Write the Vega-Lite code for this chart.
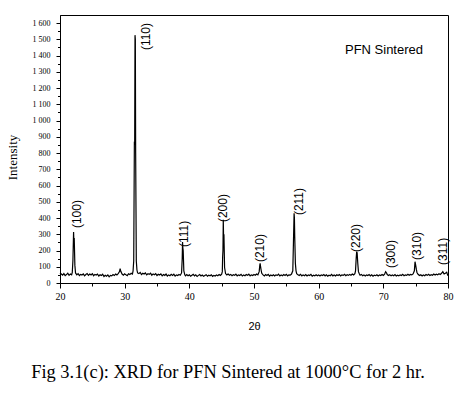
{
  "$schema": "https://vega.github.io/schema/vega-lite/v6.json",
  "width": 388,
  "height": 268,
  "autosize": {"type": "none"},
  "padding": {"left": 60, "top": 15, "right": 24, "bottom": 115},
  "background": "white",
  "title": {
    "text": "Fig 3.1(c): XRD for PFN Sintered at 1000°C for 2 hr.",
    "orient": "bottom",
    "frame": "group",
    "anchor": "middle",
    "dx": -26,
    "offset": 32,
    "font": "Liberation Serif",
    "fontSize": 18.4,
    "fontWeight": "normal",
    "color": "black"
  },
  "config": {
    "view": {"stroke": "black", "strokeWidth": 1},
    "axis": {"domainColor": "black", "tickColor": "black", "labelColor": "black", "titleColor": "black", "grid": false}
  },
  "datasets": {
    "spectrum": [
      {"x":20.0,"y":62},{"x":20.2,"y":55},{"x":20.4,"y":48},{"x":20.6,"y":58},{"x":20.8,"y":45},{"x":21.0,"y":52},{"x":21.2,"y":60},{"x":21.4,"y":47},{"x":21.6,"y":55},{"x":21.8,"y":50},{"x":21.9,"y":65},{"x":22.0,"y":140},{"x":22.1,"y":314},{"x":22.15,"y":250},{"x":22.2,"y":277},{"x":22.3,"y":110},{"x":22.4,"y":62},{"x":22.6,"y":50},{"x":22.8,"y":58},{"x":23.0,"y":46},{"x":23.2,"y":53},{"x":23.4,"y":49},{"x":23.6,"y":56},{"x":23.8,"y":44},{"x":24.0,"y":52},{"x":24.2,"y":58},{"x":24.4,"y":47},{"x":24.6,"y":55},{"x":24.8,"y":50},{"x":25.0,"y":57},{"x":25.2,"y":45},{"x":25.4,"y":53},{"x":25.6,"y":49},{"x":25.8,"y":55},{"x":26.0,"y":43},{"x":26.2,"y":51},{"x":26.4,"y":46},{"x":26.6,"y":54},{"x":26.8,"y":40},{"x":27.0,"y":48},{"x":27.2,"y":42},{"x":27.4,"y":50},{"x":27.6,"y":38},{"x":27.8,"y":47},{"x":28.0,"y":44},{"x":28.2,"y":52},{"x":28.4,"y":46},{"x":28.6,"y":55},{"x":28.8,"y":50},{"x":29.0,"y":58},{"x":29.2,"y":70},{"x":29.3,"y":88},{"x":29.4,"y":72},{"x":29.6,"y":55},{"x":29.8,"y":48},{"x":30.0,"y":56},{"x":30.2,"y":50},{"x":30.4,"y":45},{"x":30.6,"y":57},{"x":30.8,"y":52},{"x":31.0,"y":60},{"x":31.2,"y":55},{"x":31.3,"y":75},{"x":31.4,"y":135},{"x":31.5,"y":862},{"x":31.55,"y":860},{"x":31.6,"y":1526},{"x":31.65,"y":1500},{"x":31.7,"y":800},{"x":31.8,"y":135},{"x":31.9,"y":80},{"x":32.0,"y":62},{"x":32.2,"y":58},{"x":32.4,"y":65},{"x":32.6,"y":52},{"x":32.8,"y":60},{"x":33.0,"y":55},{"x":33.2,"y":62},{"x":33.4,"y":50},{"x":33.6,"y":57},{"x":33.8,"y":53},{"x":34.0,"y":60},{"x":34.2,"y":48},{"x":34.4,"y":56},{"x":34.6,"y":51},{"x":34.8,"y":58},{"x":35.0,"y":46},{"x":35.2,"y":54},{"x":35.4,"y":49},{"x":35.6,"y":56},{"x":35.8,"y":44},{"x":36.0,"y":52},{"x":36.2,"y":47},{"x":36.4,"y":55},{"x":36.6,"y":43},{"x":36.8,"y":50},{"x":37.0,"y":45},{"x":37.2,"y":53},{"x":37.4,"y":47},{"x":37.6,"y":54},{"x":37.8,"y":42},{"x":38.0,"y":50},{"x":38.2,"y":46},{"x":38.4,"y":52},{"x":38.6,"y":48},{"x":38.8,"y":62},{"x":38.9,"y":150},{"x":38.95,"y":252},{"x":39.0,"y":215},{"x":39.05,"y":200},{"x":39.15,"y":75},{"x":39.3,"y":50},{"x":39.4,"y":44},{"x":39.6,"y":52},{"x":39.8,"y":45},{"x":40.0,"y":50},{"x":40.2,"y":42},{"x":40.4,"y":48},{"x":40.6,"y":53},{"x":40.8,"y":44},{"x":41.0,"y":50},{"x":41.2,"y":40},{"x":41.4,"y":47},{"x":41.6,"y":52},{"x":41.8,"y":43},{"x":42.0,"y":49},{"x":42.2,"y":41},{"x":42.4,"y":46},{"x":42.6,"y":51},{"x":42.8,"y":42},{"x":43.0,"y":48},{"x":43.2,"y":44},{"x":43.4,"y":50},{"x":43.6,"y":41},{"x":43.8,"y":47},{"x":44.0,"y":43},{"x":44.2,"y":49},{"x":44.4,"y":45},{"x":44.6,"y":52},{"x":44.8,"y":47},{"x":45.0,"y":55},{"x":45.1,"y":70},{"x":45.15,"y":160},{"x":45.2,"y":200},{"x":45.25,"y":390},{"x":45.3,"y":270},{"x":45.35,"y":300},{"x":45.45,"y":95},{"x":45.6,"y":58},{"x":45.8,"y":50},{"x":46.0,"y":55},{"x":46.2,"y":48},{"x":46.4,"y":53},{"x":46.6,"y":45},{"x":46.8,"y":51},{"x":47.0,"y":47},{"x":47.2,"y":55},{"x":47.4,"y":44},{"x":47.6,"y":50},{"x":47.8,"y":46},{"x":48.0,"y":53},{"x":48.2,"y":43},{"x":48.4,"y":49},{"x":48.6,"y":45},{"x":48.8,"y":52},{"x":49.0,"y":47},{"x":49.2,"y":54},{"x":49.4,"y":44},{"x":49.6,"y":50},{"x":49.8,"y":46},{"x":50.0,"y":52},{"x":50.2,"y":48},{"x":50.4,"y":55},{"x":50.6,"y":50},{"x":50.8,"y":70},{"x":50.9,"y":110},{"x":50.95,"y":121},{"x":51.0,"y":105},{"x":51.1,"y":80},{"x":51.2,"y":60},{"x":51.4,"y":50},{"x":51.6,"y":44},{"x":51.8,"y":52},{"x":52.0,"y":46},{"x":52.2,"y":53},{"x":52.4,"y":42},{"x":52.6,"y":49},{"x":52.8,"y":45},{"x":53.0,"y":51},{"x":53.2,"y":44},{"x":53.4,"y":50},{"x":53.6,"y":47},{"x":53.8,"y":54},{"x":54.0,"y":43},{"x":54.2,"y":49},{"x":54.4,"y":45},{"x":54.6,"y":52},{"x":54.8,"y":46},{"x":55.0,"y":53},{"x":55.2,"y":44},{"x":55.4,"y":50},{"x":55.6,"y":48},{"x":55.8,"y":55},{"x":56.0,"y":75},{"x":56.1,"y":250},{"x":56.2,"y":429},{"x":56.25,"y":400},{"x":56.3,"y":285},{"x":56.4,"y":120},{"x":56.5,"y":75},{"x":56.6,"y":58},{"x":56.8,"y":50},{"x":57.0,"y":46},{"x":57.2,"y":53},{"x":57.4,"y":44},{"x":57.6,"y":50},{"x":57.8,"y":45},{"x":58.0,"y":52},{"x":58.2,"y":43},{"x":58.4,"y":49},{"x":58.6,"y":46},{"x":58.8,"y":53},{"x":59.0,"y":42},{"x":59.2,"y":48},{"x":59.4,"y":44},{"x":59.6,"y":51},{"x":59.8,"y":45},{"x":60.0,"y":50},{"x":60.2,"y":43},{"x":60.4,"y":49},{"x":60.6,"y":46},{"x":60.8,"y":52},{"x":61.0,"y":44},{"x":61.2,"y":50},{"x":61.4,"y":42},{"x":61.6,"y":48},{"x":61.8,"y":45},{"x":62.0,"y":53},{"x":62.2,"y":44},{"x":62.4,"y":49},{"x":62.6,"y":43},{"x":62.8,"y":51},{"x":63.0,"y":46},{"x":63.2,"y":52},{"x":63.4,"y":44},{"x":63.6,"y":50},{"x":63.8,"y":47},{"x":64.0,"y":54},{"x":64.2,"y":45},{"x":64.4,"y":51},{"x":64.6,"y":47},{"x":64.8,"y":53},{"x":65.0,"y":48},{"x":65.2,"y":55},{"x":65.4,"y":50},{"x":65.6,"y":58},{"x":65.7,"y":75},{"x":65.8,"y":150},{"x":65.88,"y":193},{"x":65.95,"y":185},{"x":66.05,"y":120},{"x":66.15,"y":70},{"x":66.3,"y":55},{"x":66.4,"y":48},{"x":66.6,"y":53},{"x":66.8,"y":45},{"x":67.0,"y":50},{"x":67.2,"y":43},{"x":67.4,"y":49},{"x":67.6,"y":46},{"x":67.8,"y":52},{"x":68.0,"y":44},{"x":68.2,"y":50},{"x":68.4,"y":42},{"x":68.6,"y":48},{"x":68.8,"y":45},{"x":69.0,"y":51},{"x":69.2,"y":43},{"x":69.4,"y":49},{"x":69.6,"y":46},{"x":69.8,"y":52},{"x":70.0,"y":47},{"x":70.2,"y":55},{"x":70.36,"y":70},{"x":70.5,"y":62},{"x":70.6,"y":52},{"x":70.8,"y":46},{"x":71.0,"y":51},{"x":71.2,"y":44},{"x":71.4,"y":49},{"x":71.6,"y":45},{"x":71.8,"y":52},{"x":72.0,"y":43},{"x":72.2,"y":48},{"x":72.4,"y":44},{"x":72.6,"y":50},{"x":72.8,"y":46},{"x":73.0,"y":53},{"x":73.2,"y":45},{"x":73.4,"y":50},{"x":73.6,"y":47},{"x":73.8,"y":54},{"x":74.0,"y":48},{"x":74.2,"y":53},{"x":74.4,"y":50},{"x":74.6,"y":56},{"x":74.8,"y":75},{"x":74.9,"y":131},{"x":75.0,"y":110},{"x":75.1,"y":85},{"x":75.2,"y":65},{"x":75.4,"y":52},{"x":75.6,"y":46},{"x":75.8,"y":51},{"x":76.0,"y":44},{"x":76.2,"y":50},{"x":76.4,"y":45},{"x":76.6,"y":52},{"x":76.8,"y":47},{"x":77.0,"y":53},{"x":77.2,"y":46},{"x":77.4,"y":51},{"x":77.6,"y":48},{"x":77.8,"y":55},{"x":78.0,"y":49},{"x":78.2,"y":54},{"x":78.4,"y":50},{"x":78.6,"y":57},{"x":78.8,"y":52},{"x":79.0,"y":60},{"x":79.2,"y":70},{"x":79.3,"y":62},{"x":79.4,"y":56},{"x":79.6,"y":60},{"x":79.8,"y":66},{"x":79.9,"y":55},{"x":80.0,"y":45}
    ],
    "labels": [
      {"x":22.6,"y":338,"hkl":"(100)"},
      {"x":33.3,"y":1434,"hkl":"(110)"},
      {"x":39.2,"y":222,"hkl":"(111)"},
      {"x":45.2,"y":375,"hkl":"(200)"},
      {"x":50.9,"y":129,"hkl":"(210)"},
      {"x":57.0,"y":418,"hkl":"(211)"},
      {"x":65.8,"y":191,"hkl":"(220)"},
      {"x":71.2,"y":92,"hkl":"(300)"},
      {"x":75.2,"y":142,"hkl":"(310)"},
      {"x":79.2,"y":111,"hkl":"(311)"}
    ],
    "note": [{"x":70.1,"y":1434,"text":"PFN Sintered"}]
  },
  "encoding": {
    "x": {
      "field": "x", "type": "quantitative",
      "scale": {"domain": [20, 80], "nice": false, "zero": false},
      "axis": {
        "title": "2θ",
        "values": [20,25,30,35,40,45,50,55,60,65,70,75,80],
        "labelExpr": "datum.value % 10 === 0 ? datum.label : ''",
        "labelOverlap": false,
        "labelFlush": false,
        "tickSize": {"condition": {"test": "datum.value % 10 === 0", "value": 5}, "value": 3},
        "labelFont": "Liberation Serif",
        "labelFontSize": 10,
        "labelPadding": 3,
        "titleFont": "Liberation Sans",
        "titleFontSize": 11,
        "titleFontWeight": "normal",
        "titlePadding": 19
      }
    },
    "y": {
      "field": "y", "type": "quantitative",
      "scale": {"domain": [0, 1650], "nice": false},
      "axis": {
        "title": "Intensity",
        "values": [0,50,100,150,200,250,300,350,400,450,500,550,600,650,700,750,800,850,900,950,1000,1050,1100,1150,1200,1250,1300,1350,1400,1450,1500,1550,1600],
        "labelExpr": "datum.value % 100 === 0 ? replace(format(datum.value, ','), ',', ' ') : ''",
        "labelOverlap": false,
        "labelFlush": false,
        "tickSize": {"condition": {"test": "datum.value % 100 === 0", "value": 4}, "value": 2.5},
        "labelFont": "Liberation Serif",
        "labelFontSize": 8,
        "labelPadding": 6,
        "titleFont": "Liberation Serif",
        "titleFontSize": 13,
        "titleFontWeight": "normal",
        "titleAngle": 270,
        "titleAlign": "center",
        "titleBaseline": "middle",
        "titleX": -48,
        "titleY": 142
      }
    }
  },
  "layer": [
    {
      "data": {"name": "spectrum"},
      "mark": {"type": "line", "color": "black", "strokeWidth": 1.2, "interpolate": "linear"}
    },
    {
      "data": {"name": "labels"},
      "mark": {"type": "text", "angle": 270, "align": "left", "baseline": "middle", "font": "Liberation Sans", "fontSize": 12, "color": "black"},
      "encoding": {"text": {"field": "hkl"}}
    },
    {
      "data": {"name": "note"},
      "mark": {"type": "text", "align": "center", "baseline": "middle", "font": "Liberation Sans", "fontSize": 13, "color": "black"},
      "encoding": {"text": {"field": "text"}}
    }
  ]
}
